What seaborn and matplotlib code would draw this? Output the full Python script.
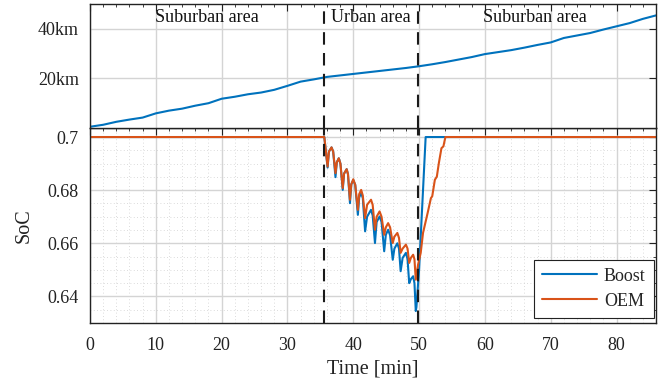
import numpy as np
import pandas as pd
import matplotlib
matplotlib.use("Agg")
import matplotlib.pyplot as plt
import seaborn as sns
from matplotlib.ticker import MultipleLocator

# ---------------- data ----------------
dist_t = [0, 2, 4, 6, 8, 10, 12, 14, 16, 18, 20, 22, 24, 26, 28, 30, 32, 34, 36, 38, 40, 42,
          44, 46, 48, 50, 52, 54, 56, 58, 60, 62, 64, 66, 68, 70, 72, 74, 76, 78, 80, 82, 84, 86]
dist_km = [0.5, 1.3, 2.5, 3.4, 4.2, 5.9, 7.0, 7.8, 9.0, 10.0, 11.8, 12.6, 13.6, 14.3, 15.4, 17.0,
           18.7, 19.6, 20.6, 21.2, 21.8, 22.4, 23.0, 23.6, 24.2, 24.9, 25.7, 26.6, 27.6, 28.6,
           29.8, 30.6, 31.4, 32.4, 33.5, 34.5, 36.3, 37.3, 38.3, 39.7, 41.0, 42.3, 44.0, 45.4]

boost_t = [0, 35.6, 36.1, 36.3, 36.7, 36.95, 37.3, 37.5, 37.8, 38.05, 38.4, 38.6, 39.0, 39.2,
           39.5, 39.7, 40.0, 40.3, 40.7, 40.9, 41.2, 41.45, 41.8, 42.1, 42.7, 42.95, 43.3, 43.55,
           44.0, 44.3, 44.7, 44.95, 45.3, 45.6, 46.0, 46.25, 46.7, 46.95, 47.2, 47.5, 48.0, 48.25,
           48.5, 48.75, 49.1, 49.3, 49.5, 49.6, 50.0, 51.0, 86]
boost_soc = [0.7, 0.7, 0.6885, 0.6945, 0.6961, 0.6945, 0.6849, 0.6905, 0.692, 0.690, 0.6801,
             0.6862, 0.6879, 0.686, 0.6751, 0.6822, 0.6838, 0.682, 0.6707, 0.6772, 0.679, 0.677,
             0.6645, 0.6700, 0.6726, 0.6705, 0.6601, 0.6680, 0.6701, 0.668, 0.657, 0.6632,
             0.6651, 0.663, 0.6538, 0.6580, 0.660, 0.658, 0.6495, 0.6545, 0.6564, 0.654, 0.645,
             0.6465, 0.6476, 0.645, 0.6345, 0.636, 0.650, 0.7, 0.7]

oem_t = [0, 35.6, 36.1, 36.3, 36.7, 36.95, 37.3, 37.5, 37.8, 38.05, 38.4, 38.6, 39.0, 39.2,
         39.5, 39.7, 40.0, 40.3, 40.7, 40.9, 41.2, 41.45, 41.8, 42.1, 42.7, 42.95, 43.3, 43.55,
         44.0, 44.3, 44.7, 44.95, 45.3, 45.6, 46.0, 46.25, 46.7, 46.95, 47.2, 47.5, 48.0, 48.25,
         48.5, 48.75, 49.1, 49.3, 49.5, 49.85, 50.25, 50.6, 51.3, 51.8, 52.0, 52.4, 52.7, 53.0,
         53.4, 53.7, 54.0, 86]
oem_soc = [0.7, 0.7, 0.6889, 0.6945, 0.6961, 0.6945, 0.6864, 0.6905, 0.692, 0.690, 0.6808,
           0.6862, 0.6879, 0.686, 0.6764, 0.6822, 0.6841, 0.682, 0.6726, 0.6785, 0.6801, 0.678,
           0.6695, 0.6745, 0.6764, 0.6745, 0.6651, 0.6700, 0.672, 0.670, 0.6632, 0.6660,
           0.6676, 0.666, 0.6601, 0.6625, 0.6639, 0.662, 0.6564, 0.658, 0.6595, 0.658, 0.6526,
           0.6545, 0.6557, 0.654, 0.6463, 0.652, 0.6564, 0.6639, 0.6714, 0.677, 0.6777, 0.6839,
           0.6851, 0.6901, 0.6958, 0.6965, 0.7, 0.7]

zone_bounds = [35.6, 49.8]
zone_labels = ["Suburban area", "Urban area", "Suburban area"]
zone_centers = [17.7, 42.7, 67.6]

# ---------------- style ----------------
sns.set_style("white")
plt.rcParams["font.family"] = ["Liberation Serif", "DejaVu Serif"]
plt.rcParams["mathtext.fontset"] = "stix"

blue = "#0072BD"
orange = "#D95319"
ink = "#222222"

fig = plt.figure(figsize=(6.63, 3.83), dpi=100)
L, R = 90 / 663, 656 / 663
ax2 = fig.add_axes([L, 1 - 323 / 383, R - L, (323 - 128) / 383])
ax1 = fig.add_axes([L, 1 - 128 / 383, R - L, (128 - 4) / 383], sharex=ax2)

# top: distance
df_d = pd.DataFrame({"t": dist_t, "d": dist_km})
sns.lineplot(data=df_d, x="t", y="d", ax=ax1, color=blue, lw=1.5)
ax1.set_ylim(0, 50)
ax1.set_yticks([20, 40])
ax1.set_yticklabels(["20km", "40km"])
ax1.set_xlabel("")
ax1.set_ylabel("")
ax1.tick_params(labelbottom=False)

# bottom: SoC
df_s = pd.concat([
    pd.DataFrame({"t": boost_t, "soc": boost_soc, "Strategy": "Boost"}),
    pd.DataFrame({"t": oem_t, "soc": oem_soc, "Strategy": "OEM"}),
])
sns.lineplot(data=df_s, x="t", y="soc", hue="Strategy", palette=[blue, orange],
             ax=ax2, lw=1.5, sort=False, estimator=None)
ax2.set_ylim(0.63, 0.7034)
ax2.set_yticks([0.64, 0.66, 0.68, 0.7])
ax2.set_yticklabels(["0.64", "0.66", "0.68", "0.7"])
ax2.yaxis.set_minor_locator(MultipleLocator(0.005))
ax2.set_xlim(0, 86)
ax2.set_xticks(range(0, 90, 10))
ax2.xaxis.set_minor_locator(MultipleLocator(2))
ax2.set_xlabel("Time [min]", fontsize=14.5, labelpad=4, color=ink)
ax2.set_ylabel("SoC", fontsize=14.5, labelpad=10, color=ink)

for ax in (ax1, ax2):
    ax.grid(True, which="major", color="#d4d4d4", lw=1.0)
    for s in ax.spines.values():
        s.set_color(ink)
        s.set_linewidth(1.0)
    ax.tick_params(which="both", direction="in", top=True, right=True,
                   labelsize=13, colors=ink)
    ax.tick_params(which="major", length=5, pad=8)
    ax.tick_params(which="minor", length=2.5)
    for b in zone_bounds:
        ax.axvline(b, color="#1a1a1a", lw=1.5, ls=(0, (6, 4)), zorder=5)
ax2.grid(True, which="minor", color="#cfcfcf", lw=0.6, ls=(0, (1, 3)))
ax2.tick_params(axis="x", which="major", pad=10)

for lab, c in zip(zone_labels, zone_centers):
    ax1.text(c, 44.4, lab, ha="center", va="center", fontsize=13, color="#111111")

leg = ax2.legend(loc="lower right", bbox_to_anchor=(0.996, 0.026), fontsize=13,
                 frameon=True, fancybox=False, edgecolor=ink, framealpha=1,
                 handlelength=3.0, borderaxespad=0, handletextpad=0.4,
                 borderpad=0.45, labelspacing=0.45)
leg.get_frame().set_linewidth(0.8)
leg.set_title(None)

fig.savefig("out.png", dpi=100)
